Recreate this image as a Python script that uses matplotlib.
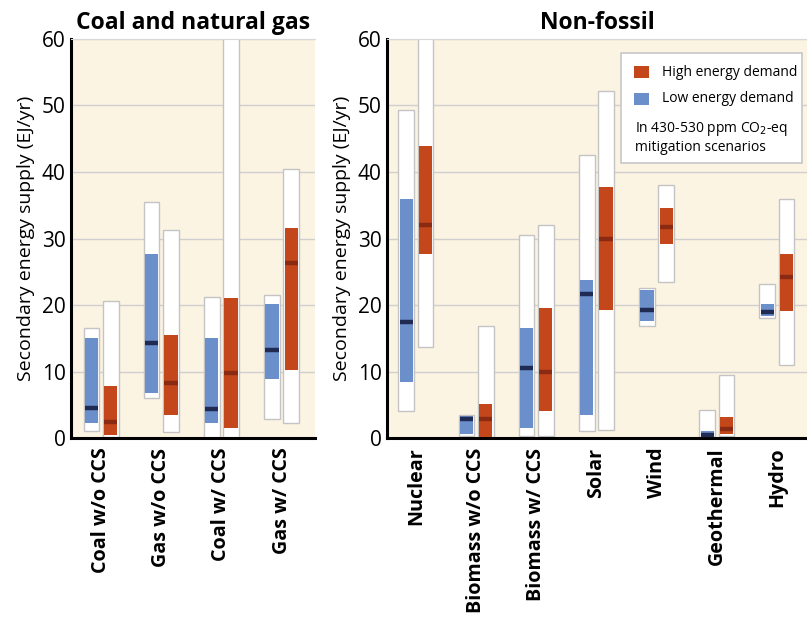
import matplotlib
matplotlib.use('Agg')
import matplotlib.pyplot as plt
from matplotlib.patches import Rectangle
import numpy as np

plt.rcParams['font.family'] = ['Open Sans', 'DejaVu Sans']

# --- data (EJ/yr) ---
fossil_names = ['Coal w/o CCS', 'Gas w/o CCS', 'Coal w/ CCS', 'Gas w/ CCS']
fossil_low_min = [1.0, 6.0, 0.0, 2.8]
fossil_low_max = [16.5, 35.5, 21.2, 21.5]
fossil_low_q1 = [2.2, 6.8, 2.3, 8.8]
fossil_low_q3 = [15.0, 27.6, 15.0, 20.1]
fossil_low_med = [4.5, 14.3, 4.4, 13.3]
fossil_high_min = [0.15, 0.9, 0.0, 2.3]
fossil_high_max = [20.6, 31.3, 62.0, 40.4]
fossil_high_q1 = [0.5, 3.5, 1.5, 10.2]
fossil_high_q3 = [7.8, 15.5, 21.0, 31.6]
fossil_high_med = [2.4, 8.2, 9.7, 26.3]

nonfossil_names = ['Nuclear', 'Biomass w/o CCS', 'Biomass w/ CCS', 'Solar',
                   'Wind', 'Geothermal', 'Hydro']
nf_low_min = [4.0, 0.3, 0.35, 1.0, 16.8, 0.1, 18.1]
nf_low_max = [49.3, 3.5, 30.5, 42.5, 22.6, 4.2, 23.2]
nf_low_q1 = [8.4, 0.6, 1.5, 3.5, 17.6, 0.1, 18.4]
nf_low_q3 = [35.9, 3.3, 16.6, 23.8, 22.3, 1.0, 20.2]
nf_low_med = [17.5, 2.8, 10.6, 21.7, 19.3, 0.5, 18.9]
nf_high_min = [13.7, 0.1, 0.25, 1.25, 23.5, 0.25, 11.0]
nf_high_max = [62.0, 16.8, 32.1, 52.2, 38.0, 9.5, 35.9]
nf_high_q1 = [27.6, 0.2, 4.0, 19.3, 29.1, 0.6, 19.1]
nf_high_q3 = [43.9, 5.1, 19.6, 37.7, 34.6, 3.2, 27.7]
nf_high_med = [32.0, 2.8, 10.0, 29.9, 31.8, 1.35, 24.2]

BG = '#fcf4e2'
BLUE = '#6b8fcb'
RED = '#c4471b'
BLUE_MED = '#1f2b52'
RED_MED = '#8a2a12'
EDGE = '#c4c4c4'
off = 0.16
w = 0.26


def draw_group(ax, xs, mn, mx, q1, q3, med, col, medcol):
    mn, mx, q1, q3 = map(np.array, (mn, mx, q1, q3))
    ax.bar(xs, mx - mn, bottom=mn, width=w, color='white',
           edgecolor=EDGE, linewidth=1.0, zorder=2)
    ax.bar(xs, q3 - q1, bottom=q1, width=w - 0.04, color=col,
           linewidth=0, zorder=3)
    ax.hlines(med, xs - (w - 0.04) / 2, xs + (w - 0.04) / 2,
              colors=medcol, linewidth=3.2, zorder=4)


def style(ax, names, xlim, title):
    ax.set_facecolor(BG)
    ax.set_xlim(*xlim)
    ax.set_ylim(0, 60)
    ax.set_yticks(range(0, 61, 10))
    ax.yaxis.grid(True, color='#cfcfcf', linewidth=1.0, zorder=0)
    ax.set_axisbelow(True)
    ax.set_xticks(np.arange(len(names)))
    ax.set_xticklabels(names, rotation=90, fontsize=14.2, fontweight='bold',
                       va='top')
    ax.tick_params(axis='x', length=0, pad=7)
    ax.tick_params(axis='y', length=0, labelsize=15, pad=4)
    for s in ('left', 'bottom'):
        ax.spines[s].set_linewidth(2.2)
        ax.spines[s].set_color('black')
    ax.spines['top'].set_color('#d8d8d8')
    ax.spines['right'].set_visible(False)
    ax.set_ylabel('Secondary energy supply (EJ/yr)', fontsize=14,
                  labelpad=5)
    ax.set_title(title, fontsize=16.5, fontweight='bold', pad=7)


fig = plt.figure(figsize=(8.07, 6.19), dpi=100)
ax1 = fig.add_axes([0.088, 0.2924, 0.302, 0.6446])
ax2 = fig.add_axes([0.4796, 0.2924, 0.5204, 0.6446])

x1 = np.arange(len(fossil_names))
draw_group(ax1, x1 - off, fossil_low_min, fossil_low_max, fossil_low_q1,
           fossil_low_q3, fossil_low_med, BLUE, BLUE_MED)
draw_group(ax1, x1 + off, fossil_high_min, fossil_high_max, fossil_high_q1,
           fossil_high_q3, fossil_high_med, RED, RED_MED)
style(ax1, fossil_names, (-0.5, 3.55), 'Coal and natural gas')

x2 = np.arange(len(nonfossil_names))
draw_group(ax2, x2 - off, nf_low_min, nf_low_max, nf_low_q1,
           nf_low_q3, nf_low_med, BLUE, BLUE_MED)
draw_group(ax2, x2 + off, nf_high_min, nf_high_max, nf_high_q1,
           nf_high_q3, nf_high_med, RED, RED_MED)
style(ax2, nonfossil_names, (-0.48, 6.5), 'Non-fossil')

# legend box
tr = ax2.transAxes
ax2.add_patch(Rectangle((0.557, 0.688), 0.43, 0.278, transform=tr,
                        facecolor='white', edgecolor='#c8c8c8', lw=1.2,
                        zorder=6))
ax2.add_patch(Rectangle((0.588, 0.902), 0.036, 0.03, transform=tr,
                        facecolor=RED, lw=0, zorder=7))
ax2.add_patch(Rectangle((0.588, 0.835), 0.036, 0.03, transform=tr,
                        facecolor=BLUE, lw=0, zorder=7))
ax2.text(0.655, 0.917, 'High energy demand', transform=tr, fontsize=10,
         va='center', zorder=8)
ax2.text(0.655, 0.85, 'Low energy demand', transform=tr, fontsize=10,
         va='center', zorder=8)
ax2.text(0.59, 0.753, 'In 430-530 ppm CO$_2$-eq\nmitigation scenarios',
         transform=tr, fontsize=10, va='center', linespacing=1.25, zorder=8)

fig.savefig('out.png', dpi=100)
